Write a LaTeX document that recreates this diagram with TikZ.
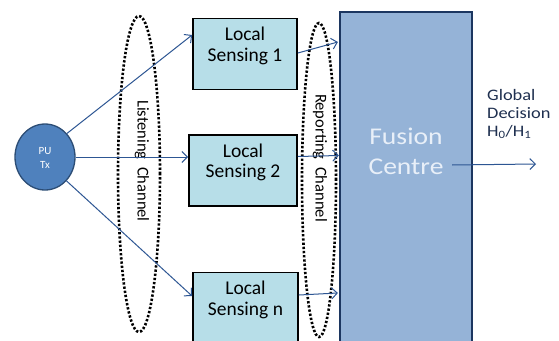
\documentclass[tikz,border=0pt]{standalone}
\usepackage{fontspec}
\setmainfont{Carlito}
\newfontfamily\widefont[FakeStretch=1.15]{Carlito}
\usetikzlibrary{arrows.meta,shapes.geometric}
\definecolor{lsfill}{HTML}{B7DEE8}
\definecolor{fcfill}{HTML}{95B3D7}
\definecolor{fcline}{HTML}{1C3660}
\definecolor{pufill}{HTML}{4F81BD}
\definecolor{puline}{HTML}{2C4D75}
\definecolor{arrcol}{HTML}{2D5693}
\definecolor{gdtext}{HTML}{1F3050}
\definecolor{fctext}{HTML}{E8EFF8}
\begin{document}
\begin{tikzpicture}[x=1pt,y=-1pt,
  lsbox/.style={draw=black, line width=1.8pt, fill=lsfill, inner sep=0pt, minimum height=71pt},
  lstext/.style={font=\fontsize{19.5}{20.5}\selectfont, align=center, inner sep=0pt},
  arr/.style={draw=arrcol, line width=1pt, -{Straight Barb[length=5.5pt,width=11pt,line width=1pt]}},
  chan/.style={draw=black, line width=2.6pt, dash pattern=on 2.3pt off 1.9pt},
  chantext/.style={font=\fontsize{16.5}{19}\selectfont, rotate=-90, inner sep=0pt}
]
\clip (0,0) rectangle (559,340);
\fill[white] (0,0) rectangle (559,340);

% Fusion centre
\node[draw=fcline, line width=2pt, fill=fcfill, minimum width=132pt, minimum height=340pt, inner sep=0pt] (fc) at (406,182) {};
\node[font=\widefont\fontsize{24}{30}\selectfont, text=fctext, align=center, inner sep=0pt] (fctxt) at (406,151) {Fusion\\Centre};

% Local sensing boxes
\node[lsbox, minimum width=104pt] (ls1) at (245,54) {};
\node[lstext] (ls1t) at ([yshift=8pt]ls1.center) {Local\\Sensing 1};
\node[lsbox, minimum width=108pt] (ls2) at (243,170.5) {};
\node[lstext] (ls2t) at ([yshift=8pt]ls2.center) {Local\\Sensing 2};
\node[lsbox, minimum width=105pt] (lsn) at (245.5,308) {};
\node[lstext] (lsnt) at ([yshift=8pt]lsn.center) {Local\\Sensing n};

% PU Tx
\node[ellipse, draw=puline, line width=1.3pt, fill=pufill, minimum width=60pt, minimum height=66pt, inner sep=0pt] (pu) at (45,157) {};
\node[font=\fontsize{11}{14}\selectfont, text=white, align=center, inner sep=0pt] (put) at (45,158) {PU\\Tx};

% channels
\node[chan, ellipse, minimum width=42pt, minimum height=316pt, inner sep=0pt] (lc) at (139,174) {};
\node[chantext] (lct) at (142,161) {Listening~ Channel};
\node[chan, ellipse, minimum width=34pt, minimum height=314pt, inner sep=0pt] (rc) at (319,180) {};
\node[chantext] (rct) at (320,158) {Reporting~ Channel};

% listening arrows
\draw[arr] (pu.47) -- ([yshift=19pt]ls1.west);
\draw[arr] (pu.east) -- (pu.east -| ls2.west);
\draw[arr] (pu.-48) -- ([yshift=12pt]lsn.west);

% reporting arrows
\draw[arr] ([yshift=1pt]ls1.east) -- ++(40,-11);
\draw[arr] ([yshift=14pt]ls2.east) -- ++(41,-1);
\draw[arr] ([yshift=13pt]lsn.east) -- ++(39,-2);

% output
\draw[arr] ([shift={(46,-17)}]fc.center) -- ++(84,-1) coordinate (outend);
\node[font=\widefont\fontsize{16}{18}\selectfont, text=gdtext, align=left, anchor=north west, inner sep=0pt] (gd) at (487,89) {Global\\Decision\\H\textsubscript{0}/H\textsubscript{1}};
\end{tikzpicture}
\end{document}
